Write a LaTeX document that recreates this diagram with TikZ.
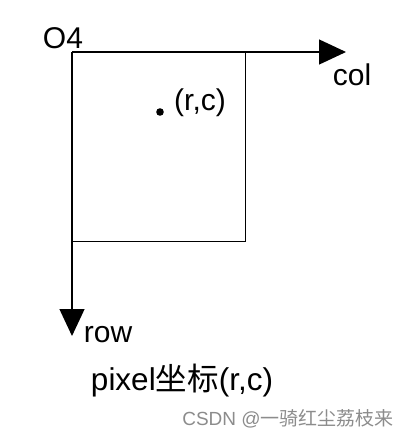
\documentclass[tikz,border=0pt]{standalone}
\usepackage{fontspec}
\setmainfont{Liberation Sans}
\newfontfamily\cjk{Noto Sans CJK SC}
\usetikzlibrary{arrows.meta}
\begin{document}
\begin{tikzpicture}[x=1pt,y=-1pt,
  axis/.style={line width=1.3pt,-{Triangle[length=27pt,width=25pt]}},
  lbl/.style={inner sep=0pt,font=\fontsize{30}{33}\selectfont}]
\useasboundingbox (0,0) rectangle (409,442);
\coordinate (O) at (72,52);
\coordinate (X) at (346,52);
\coordinate (Y) at (72,336);
\draw[line width=1pt] (72,52) rectangle (245,241);
\draw[axis] (O) -- (X);
\draw[axis] (O) -- (Y);
\fill (160,112) circle (3.8pt) coordinate (P);
\node[lbl] (o4) at (63,38) {O4};
\node[lbl] (col) at (352,75) {col};
\node[lbl] (rc) at (200,103) {(r,c)};
\node[lbl] (row) at (108,335) {row};
\node[lbl,font=\fontsize{31.5}{34}\selectfont] (pix) at (182,381) {pixel{\cjk 坐标}(r,c)};
\node[inner sep=0pt,text=black!45,font=\fontsize{19}{22}\selectfont] (wm) at (288,419) {CSDN @{\cjk 一骑红尘荔枝来}};
\end{tikzpicture}
\end{document}
